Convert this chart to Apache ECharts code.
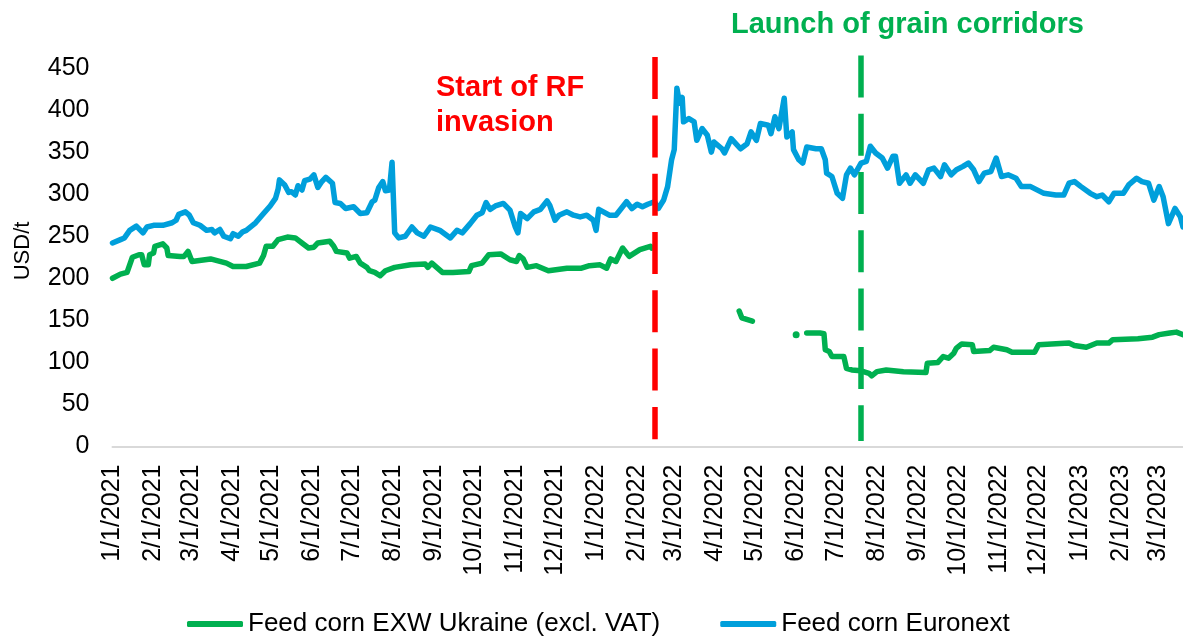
<!DOCTYPE html>
<html>
<head>
<meta charset="utf-8">
<script src="https://cdn.jsdelivr.net/npm/echarts@6/dist/echarts.min.js"></script>
<style>
  body { margin: 0; background: #fff; }
  #chart { width: 1183px; height: 637px; }
</style>
</head>
<body>
<div id="chart"></div>
<script>
// Feed corn Euronext, USD/t
var euronext = [
  ['2021-01-01', 242], ['2021-01-07', 246], ['2021-01-10', 248], ['2021-01-14', 257], ['2021-01-19', 262],
  ['2021-01-24', 254], ['2021-01-27', 261], ['2021-02-01', 263], ['2021-02-08', 263], ['2021-02-15', 266],
  ['2021-02-18', 269], ['2021-02-20', 276], ['2021-02-25', 279], ['2021-02-28', 275], ['2021-03-03', 266],
  ['2021-03-08', 263], ['2021-03-13', 257], ['2021-03-17', 258], ['2021-03-19', 254], ['2021-03-23', 258],
  ['2021-03-26', 250], ['2021-03-31', 247], ['2021-04-02', 253], ['2021-04-06', 250], ['2021-04-09', 255],
  ['2021-04-12', 257], ['2021-04-19', 266], ['2021-04-25', 277], ['2021-04-30', 286], ['2021-05-04', 295],
  ['2021-05-06', 306], ['2021-05-07', 317], ['2021-05-11', 311], ['2021-05-14', 302], ['2021-05-16', 303],
  ['2021-05-19', 299], ['2021-05-21', 310], ['2021-05-24', 305], ['2021-05-26', 316], ['2021-05-30', 318],
  ['2021-06-02', 323], ['2021-06-05', 308], ['2021-06-08', 315], ['2021-06-11', 320], ['2021-06-16', 313],
  ['2021-06-18', 290], ['2021-06-22', 289], ['2021-06-26', 283], ['2021-07-02', 285], ['2021-07-07', 277],
  ['2021-07-12', 278], ['2021-07-16', 291], ['2021-07-18', 293], ['2021-07-21', 308], ['2021-07-24', 315],
  ['2021-07-26', 304], ['2021-07-29', 305], ['2021-07-31', 338], ['2021-08-02', 254], ['2021-08-05', 248],
  ['2021-08-10', 250], ['2021-08-15', 261], ['2021-08-19', 254], ['2021-08-24', 250], ['2021-08-29', 261],
  ['2021-09-05', 257], ['2021-09-13', 248], ['2021-09-18', 257], ['2021-09-22', 254], ['2021-09-28', 265],
  ['2021-10-03', 275], ['2021-10-07', 278], ['2021-10-10', 290], ['2021-10-13', 282], ['2021-10-17', 286],
  ['2021-10-23', 289], ['2021-10-28', 281], ['2021-11-01', 261], ['2021-11-03', 254], ['2021-11-05', 277],
  ['2021-11-10', 271], ['2021-11-15', 279], ['2021-11-20', 282], ['2021-11-25', 292], ['2021-11-27', 287],
  ['2021-12-01', 269], ['2021-12-04', 275], ['2021-12-10', 279], ['2021-12-15', 275], ['2021-12-20', 273],
  ['2021-12-25', 275], ['2021-12-30', 269], ['2022-01-01', 257], ['2022-01-03', 282], ['2022-01-11', 275],
  ['2022-01-16', 275], ['2022-01-24', 291], ['2022-01-28', 283], ['2022-02-01', 288], ['2022-02-05', 285],
  ['2022-02-09', 288], ['2022-02-14', 291], ['2022-02-17', 283], ['2022-02-21', 293], ['2022-02-24', 309],
  ['2022-02-27', 341], ['2022-03-01', 353], ['2022-03-03', 426], ['2022-03-05', 408], ['2022-03-07', 415],
  ['2022-03-08', 386], ['2022-03-12', 390], ['2022-03-16', 386], ['2022-03-18', 364], ['2022-03-22', 378],
  ['2022-03-26', 370], ['2022-03-29', 350], ['2022-03-31', 362], ['2022-04-06', 354], ['2022-04-08', 349],
  ['2022-04-13', 366], ['2022-04-20', 354], ['2022-04-25', 360], ['2022-04-28', 374], ['2022-05-02', 364],
  ['2022-05-05', 384], ['2022-05-11', 382], ['2022-05-13', 372], ['2022-05-16', 392], ['2022-05-19', 378],
  ['2022-05-23', 414], ['2022-05-25', 368], ['2022-05-29', 374], ['2022-05-30', 353], ['2022-06-03', 341],
  ['2022-06-06', 337], ['2022-06-09', 356], ['2022-06-16', 354], ['2022-06-20', 354], ['2022-06-23', 341],
  ['2022-06-24', 325], ['2022-06-28', 321], ['2022-07-02', 301], ['2022-07-06', 295], ['2022-07-09', 323],
  ['2022-07-12', 331], ['2022-07-15', 323], ['2022-07-20', 337], ['2022-07-24', 339], ['2022-07-27', 357],
  ['2022-07-31', 349], ['2022-08-05', 343], ['2022-08-09', 331], ['2022-08-13', 345], ['2022-08-15', 345],
  ['2022-08-18', 313], ['2022-08-23', 323], ['2022-08-26', 313], ['2022-08-30', 323], ['2022-09-05', 313],
  ['2022-09-09', 329], ['2022-09-13', 331], ['2022-09-18', 321], ['2022-09-21', 335], ['2022-09-26', 323],
  ['2022-09-30', 329], ['2022-10-05', 333], ['2022-10-09', 337], ['2022-10-13', 329], ['2022-10-17', 315],
  ['2022-10-21', 325], ['2022-10-26', 327], ['2022-10-30', 343], ['2022-11-03', 321], ['2022-11-08', 323],
  ['2022-11-14', 319], ['2022-11-18', 309], ['2022-11-25', 309], ['2022-12-05', 301], ['2022-12-14', 299],
  ['2022-12-20', 299], ['2022-12-24', 313], ['2022-12-28', 315], ['2023-01-02', 309], ['2023-01-09', 301],
  ['2023-01-14', 297], ['2023-01-18', 299], ['2023-01-23', 291], ['2023-01-27', 301], ['2023-02-03', 301],
  ['2023-02-07', 311], ['2023-02-13', 319], ['2023-02-17', 315], ['2023-02-22', 313], ['2023-02-26', 293],
  ['2023-03-02', 309], ['2023-03-05', 297], ['2023-03-09', 265], ['2023-03-14', 283], ['2023-03-18', 273],
  ['2023-03-20', 261]
];

// Feed corn EXW Ukraine (excl. VAT), USD/t; null = no quotes
var ukraine = [
  ['2021-01-01', 200], ['2021-01-07', 205], ['2021-01-12', 207], ['2021-01-16', 225], ['2021-01-21', 228],
  ['2021-01-23', 228], ['2021-01-25', 216], ['2021-01-28', 216], ['2021-01-29', 228], ['2021-02-01', 230],
  ['2021-02-02', 238], ['2021-02-08', 241], ['2021-02-11', 236], ['2021-02-12', 227], ['2021-02-21', 226],
  ['2021-02-24', 226], ['2021-02-27', 232], ['2021-03-02', 220], ['2021-03-16', 223], ['2021-03-28', 218],
  ['2021-04-02', 214], ['2021-04-12', 214], ['2021-04-22', 218], ['2021-04-25', 227], ['2021-04-27', 238],
  ['2021-05-02', 238], ['2021-05-06', 246], ['2021-05-13', 249], ['2021-05-19', 248], ['2021-05-24', 242],
  ['2021-05-29', 236], ['2021-06-02', 237], ['2021-06-05', 242], ['2021-06-14', 244], ['2021-06-17', 238],
  ['2021-06-19', 232], ['2021-06-27', 230], ['2021-06-29', 224], ['2021-07-04', 226], ['2021-07-07', 218],
  ['2021-07-12', 213], ['2021-07-14', 209], ['2021-07-18', 207], ['2021-07-22', 203], ['2021-07-26', 209],
  ['2021-08-02', 213], ['2021-08-14', 216], ['2021-08-25', 217], ['2021-08-27', 213], ['2021-08-30', 218],
  ['2021-09-07', 207], ['2021-09-15', 207], ['2021-09-27', 208], ['2021-09-29', 215], ['2021-10-07', 218],
  ['2021-10-12', 228], ['2021-10-21', 229], ['2021-10-28', 222], ['2021-11-02', 220], ['2021-11-04', 227],
  ['2021-11-07', 223], ['2021-11-10', 213], ['2021-11-17', 215], ['2021-11-26', 209], ['2021-12-10', 212],
  ['2021-12-21', 212], ['2021-12-27', 215], ['2022-01-04', 216], ['2022-01-09', 212], ['2022-01-12', 223],
  ['2022-01-16', 220], ['2022-01-21', 236], ['2022-01-26', 226], ['2022-02-03', 234], ['2022-02-11', 238],
  ['2022-02-12', 236], ['2022-02-20', null],
  ['2022-04-19', 161], ['2022-04-21', 153], ['2022-04-29', 149], ['2022-05-10', null],
  ['2022-06-01', 133], ['2022-06-05', null],
  ['2022-06-09', 135], ['2022-06-19', 135], ['2022-06-22', 134], ['2022-06-23', 115], ['2022-06-26', 113],
  ['2022-06-28', 107], ['2022-07-07', 107], ['2022-07-09', 93], ['2022-07-13', 91], ['2022-07-20', 90],
  ['2022-07-26', 87], ['2022-07-28', 84], ['2022-08-01', 89], ['2022-08-08', 91], ['2022-08-21', 89],
  ['2022-09-07', 88], ['2022-09-08', 99], ['2022-09-16', 100], ['2022-09-20', 107], ['2022-09-24', 105],
  ['2022-09-28', 111], ['2022-09-30', 117], ['2022-10-04', 122], ['2022-10-12', 121], ['2022-10-13', 113],
  ['2022-10-25', 114], ['2022-10-28', 118], ['2022-11-07', 115], ['2022-11-11', 112], ['2022-11-28', 112],
  ['2022-12-01', 121], ['2022-12-24', 123], ['2022-12-28', 120], ['2023-01-06', 118], ['2023-01-14', 123],
  ['2023-01-23', 123], ['2023-01-26', 127], ['2023-02-14', 128], ['2023-02-25', 130], ['2023-03-02', 133],
  ['2023-03-10', 135], ['2023-03-15', 136], ['2023-03-20', 133]
];

var invasionDate = '2022-02-14';
var corridorDate = '2022-07-20';
var seriesNames = ['Feed corn EXW Ukraine (excl. VAT)', 'Feed corn Euronext'];

var FONT = '"Liberation Sans", Arial, sans-serif';
var GREEN = '#00B050';
var BLUE = '#009FDB';
var RED = '#FF0000';
var DAY = 24 * 3600 * 1000;

// single isolated quote in June 2022 has no neighbours, so draw it as a dot
var ukraineData = ukraine.map(function (p, i) {
  var prev = ukraine[i - 1], next = ukraine[i + 1];
  if (p[1] != null && prev && next && prev[1] == null && next[1] == null) {
    return { value: p, symbol: 'circle', symbolSize: 7 };
  }
  return p;
});

var chart = echarts.init(document.getElementById('chart'));
var option = {
  animation: false,
  textStyle: { fontFamily: FONT },
  grid: { left: 112.5, right: 0, top: 55.4, bottom: 190.5 },
  legend: {
    left: 182,
    top: 606,
    itemWidth: 56,
    itemHeight: 6,
    itemGap: 60,
    textStyle: { fontSize: 26, color: '#000', fontFamily: FONT },
    data: [
      { name: seriesNames[0], icon: 'roundRect' },
      { name: seriesNames[1], icon: 'roundRect' }
    ]
  },
  xAxis: {
    type: 'time',
    min: '2021-01-01',
    max: '2023-03-20',
    minInterval: 28 * DAY,
    maxInterval: 31 * DAY,
    splitNumber: 27,
    axisLine: { lineStyle: { color: '#D9D9D9', width: 2 } },
    axisTick: { show: false },
    splitLine: { show: false },
    axisLabel: {
      rotate: 90,
      margin: 18,
      fontSize: 25,
      color: '#000',
      fontFamily: FONT,
      hideOverlap: false,
      formatter: function (value) {
        var d = new Date(value);
        return (d.getMonth() + 1) + '/' + d.getDate() + '/' + d.getFullYear();
      }
    }
  },
  yAxis: {
    type: 'value',
    min: 0,
    max: 465,
    interval: 50,
    name: 'USD/t',
    nameLocation: 'middle',
    nameGap: 79,
    nameTextStyle: { fontSize: 22, color: '#000', fontFamily: FONT },
    axisLine: { show: false },
    axisTick: { show: false },
    splitLine: { show: false },
    axisLabel: { fontSize: 25, color: '#000', margin: 23, showMaxLabel: false, fontFamily: FONT }
  },
  graphic: [
    {
      type: 'text', left: 436, top: 70,
      style: {
        text: 'Start of RF\ninvasion', fill: RED,
        fontSize: 29, fontWeight: 'bold', fontFamily: FONT, lineHeight: 35
      }
    },
    {
      type: 'text', left: 731, top: 7,
      style: {
        text: 'Launch of grain corridors', fill: GREEN,
        fontSize: 29, fontWeight: 'bold', fontFamily: FONT, lineHeight: 35
      }
    }
  ],
  series: [
    {
      name: seriesNames[0],
      type: 'line',
      data: ukraineData,
      color: GREEN,
      showSymbol: true,
      symbol: 'none',
      connectNulls: false,
      itemStyle: { color: GREEN },
      lineStyle: { width: 5.5, color: GREEN, join: 'round', cap: 'round' },
      emphasis: { disabled: true },
      z: 3
    },
    {
      name: seriesNames[1],
      type: 'line',
      data: euronext,
      color: BLUE,
      showSymbol: false,
      lineStyle: { width: 5.5, color: BLUE, join: 'round', cap: 'round' },
      emphasis: { disabled: true },
      z: 2,
      markLine: {
        silent: true,
        symbol: 'none',
        label: { show: false },
        lineStyle: { type: [42, 16.3], width: 5.5 },
        data: [
          [
            { coord: [invasionDate, 463], lineStyle: { color: RED, type: [42, 16.3], width: 5.5 } },
            { coord: [invasionDate, 8.5] }
          ],
          [
            { coord: [corridorDate, 465], lineStyle: { color: GREEN, type: [42, 16.3], width: 5.5 } },
            { coord: [corridorDate, 6.5] }
          ]
        ]
      }
    }
  ]
};
chart.setOption(option);
</script>
</body>
</html>
